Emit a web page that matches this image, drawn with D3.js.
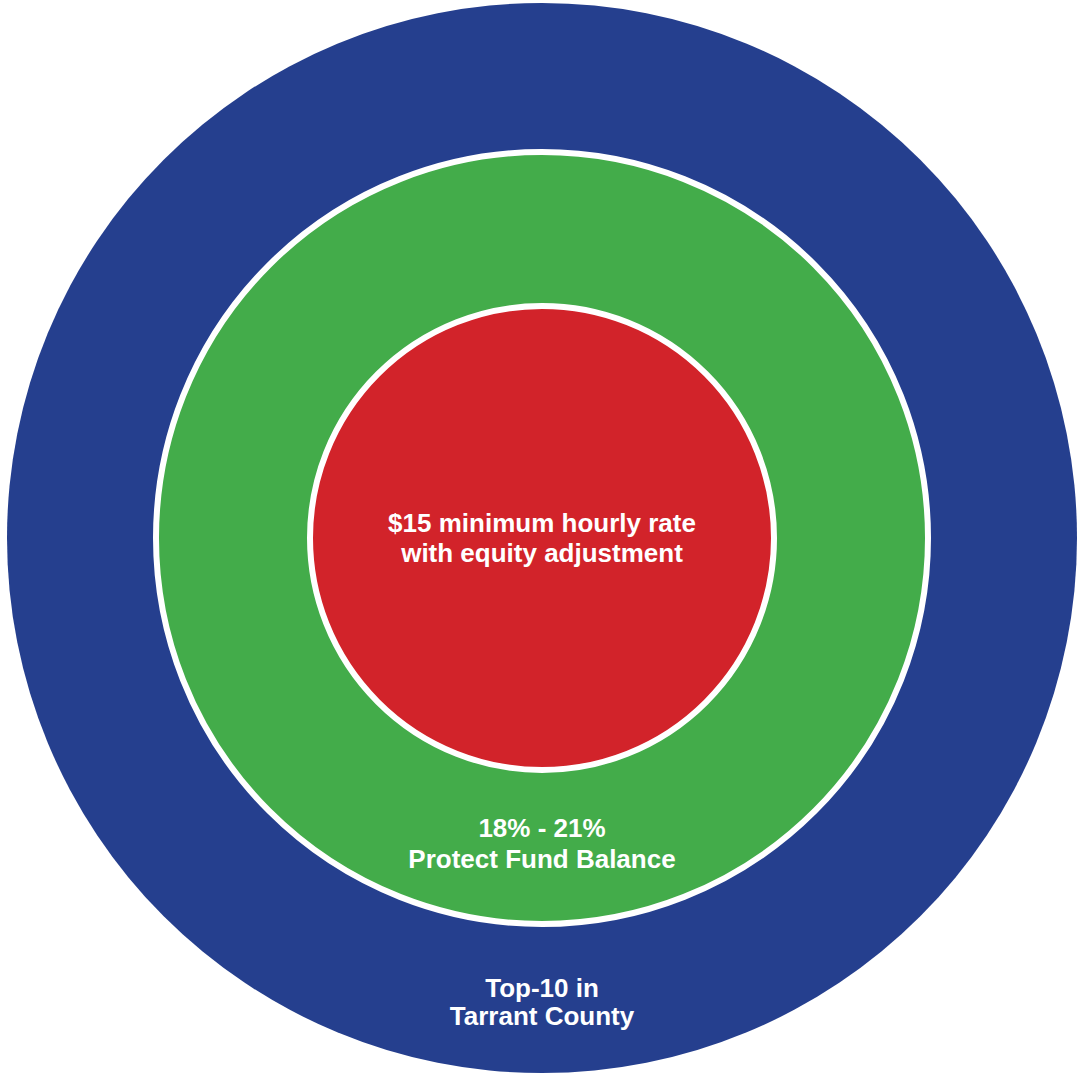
<!DOCTYPE html>
<html>
<head>
<meta charset="utf-8">
<script src="https://cdn.jsdelivr.net/npm/d3@7"></script>
<style>
  html, body { margin: 0; padding: 0; background: #ffffff; }
  svg { display: block; }
</style>
</head>
<body>
<div id="chart"></div>
<script>
// Rings from outermost to innermost
const ringNames = ["Top-10 in Tarrant County", "Protect Fund Balance", "$15 minimum hourly rate with equity adjustment"];
const ringLevels = [3, 2, 1];
const ringColors = ["#253f8e", "#43ac4a", "#d2232a"];
const ringLabels = [
  ["Top-10 in", "Tarrant County"],
  ["18% - 21%", "Protect Fund Balance"],
  ["$15 minimum hourly rate", "with equity adjustment"]
];

const W = 1079, H = 1077;
const cx = 542, cy = 538;

const svg = d3.select("#chart").append("svg")
  .attr("width", W).attr("height", H);

const r = d3.scaleLinear().domain([1, 3]).range([232, 535]);
const rMid = d3.scaleOrdinal().domain([1, 2, 3]).range([232, 386, 535]);

const rings = ringLevels.map((lv, i) => ({
  name: ringNames[i], level: lv, color: ringColors[i], lines: ringLabels[i]
}));

svg.selectAll("circle.ring")
  .data(rings)
  .join("circle")
  .attr("class", "ring")
  .attr("cx", cx).attr("cy", cy)
  .attr("r", d => rMid(d.level))
  .attr("fill", d => d.color)
  .attr("stroke", d => d.level === 3 ? "none" : "#ffffff")
  .attr("stroke-width", 6);

// label baselines (first line) positioned within each ring
const labelY = {1: 532, 2: 837, 3: 997};
const lineGap = {1: 30, 2: 31, 3: 28};

const g = svg.selectAll("g.label")
  .data(rings)
  .join("g")
  .attr("class", "label");

g.each(function(d) {
  const sel = d3.select(this);
  d.lines.forEach((t, j) => {
    sel.append("text")
      .attr("x", cx)
      .attr("y", labelY[d.level] + j * lineGap[d.level])
      .attr("text-anchor", "middle")
      .attr("fill", "#ffffff")
      .attr("font-family", "'Liberation Sans', Arial, sans-serif")
      .attr("font-weight", "bold")
      .attr("font-size", 26)
      .text(t);
  });
});
</script>
</body>
</html>
